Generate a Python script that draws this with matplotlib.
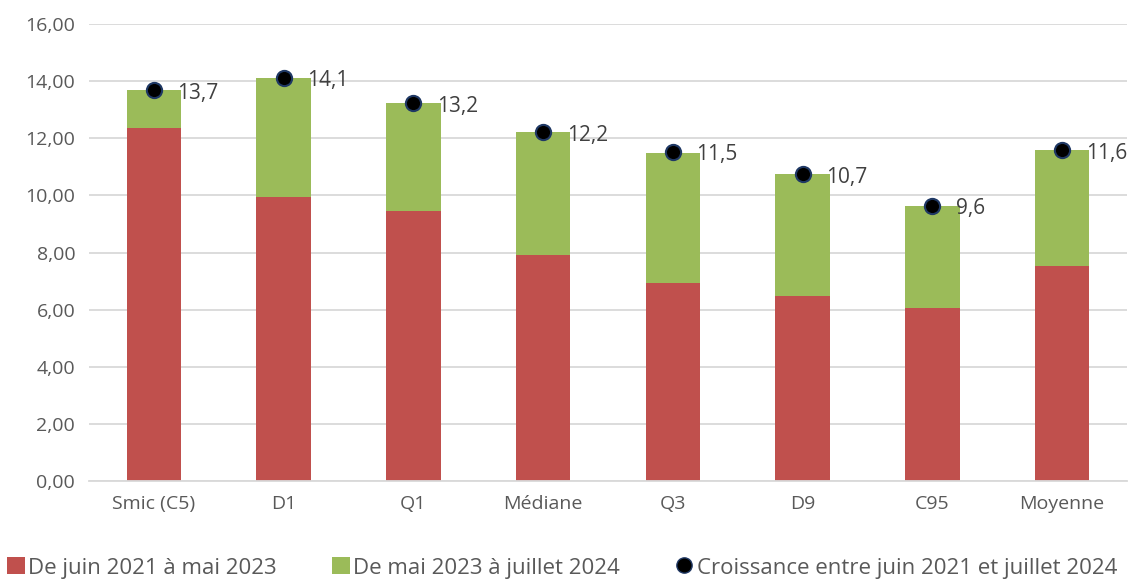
import matplotlib
matplotlib.use("Agg")
import matplotlib.pyplot as plt
from matplotlib.lines import Line2D
from matplotlib.patches import Patch

categories = ["Smic (C5)", "D1", "Q1", "Médiane", "Q3", "D9", "C95", "Moyenne"]
red_vals = [12.36, 9.94, 9.44, 7.91, 6.93, 6.47, 6.05, 7.53]
green_vals = [1.32, 4.18, 3.78, 4.30, 4.57, 4.27, 3.59, 4.05]
growth_vals = [13.68, 14.12, 13.22, 12.21, 11.52, 10.74, 9.64, 11.58]
yticks = [0, 2, 4, 6, 8, 10, 12, 14, 16]

legend_labels = ["De juin 2021 à mai 2023", "De mai 2023 à juillet 2024",
                 "Croissance entre juin 2021 et juillet 2024"]

RED = "#c0504d"
GREEN = "#9bbb59"
TXT = "#595959"

plt.rcParams["font.family"] = ["Open Sans", "DejaVu Sans"]

fig = plt.figure(figsize=(11.33, 5.88), dpi=100)
ax = fig.add_axes([0.0786, 0.182, 0.916, 0.777])

x = list(range(len(categories)))
ax.bar(x, red_vals, width=0.42, color=RED, zorder=2)
ax.bar(x, green_vals, width=0.42, bottom=red_vals, color=GREEN, zorder=2)
ax.scatter(x, growth_vals, s=120, color="black", edgecolors="#1f3864",
           linewidths=1.5, zorder=4)
for xi, v in zip(x, growth_vals):
    ax.annotate(f"{v:.1f}".replace(".", ","), (xi, v), xytext=(17, -2),
                textcoords="offset points", ha="left", va="center",
                fontsize=15, color="#404040", zorder=5)

ax.set_xlim(-0.5, len(categories) - 0.5)
ax.set_ylim(0, 16)
ax.set_yticks(yticks)
ax.set_yticklabels([f"{t:.2f}".replace(".", ",") for t in yticks])
ax.set_xticks(x)
ax.set_xticklabels(categories)
ax.tick_params(axis="both", length=0, labelsize=14, colors=TXT, pad=10)
ax.grid(axis="y", color="#d9d9d9", linewidth=1.3, zorder=0)
for s in ["top", "right", "left"]:
    ax.spines[s].set_visible(False)
ax.spines["bottom"].set_color("#d9d9d9")
ax.spines["bottom"].set_linewidth(1.3)

handles = [Patch(facecolor=RED), Patch(facecolor=GREEN),
           Line2D([], [], marker="o", linestyle="", markerfacecolor="black",
                  markeredgecolor="#1f3864", markersize=11)]
fig.legend(handles, legend_labels, loc="lower center", ncol=3,
           bbox_to_anchor=(0.496, -0.018), frameon=False, fontsize=16,
           labelcolor=TXT, handlelength=0.8, handleheight=0.8,
           handletextpad=0.15, columnspacing=2.5)

fig.savefig("out.png", dpi=100)
